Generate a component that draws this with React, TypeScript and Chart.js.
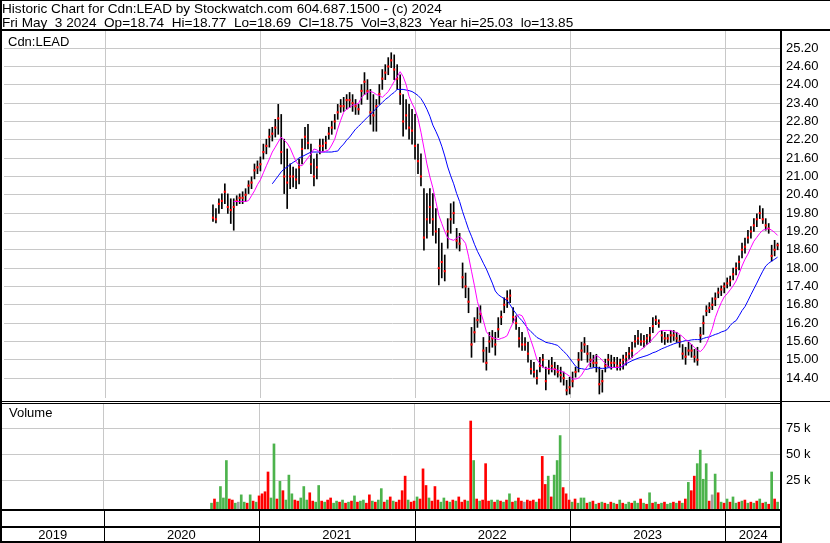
import React, { useEffect, useRef } from 'react';
import { Chart, registerables } from 'chart.js';

Chart.register(...registerables);

const FONT = '"Liberation Sans", Arial, Helvetica, sans-serif';
const GRID = '#c8c8c8';

const TITLE = 'Historic Chart for Cdn:LEAD by Stockwatch.com 604.687.1500 - (c) 2024';
const QUOTE_LINE = 'Fri May  3 2024  Op=18.74  Hi=18.77  Lo=18.69  Cl=18.75  Vol=3,823  Year hi=25.03  lo=13.85';
const PRICE_LABEL = 'Cdn:LEAD';
const VOLUME_LABEL = 'Volume';

// weekly samples, first week ending Fri 2020-09-11, one per week to 2024-05-03
const FIRST_WEEK = '2020-09-11';

const HIGH = [
  20.07, 19.95, 20.27, 20.43, 20.76, 20.43, 20.27, 20.27, 20.37, 20.43,
  20.5, 20.6, 20.86, 20.99, 21.41, 21.51, 21.64, 22.06, 22.22, 22.55,
  22.61, 22.87, 23.36, 23.03, 22.22, 21.9, 21.41, 21.31, 21.25, 21.57,
  22.22, 22.61, 22.71, 22.06, 21.57, 21.74, 22.22, 22.22, 22.32, 22.61,
  22.81, 23.03, 23.36, 23.52, 23.59, 23.68, 23.75, 23.68, 23.52, 23.36,
  24.01, 24.4, 24.17, 23.85, 23.68, 23.52, 24.01, 24.5, 24.66, 24.89,
  25.05, 24.98, 24.66, 24.33, 23.68, 23.52, 23.36, 23.2, 23.03, 22.06,
  21.74, 20.6, 20.44, 20.6, 20.44, 19.95, 19.3, 18.82, 18.43, 19.62,
  20.11, 20.17, 19.3, 19.14, 18.17, 17.84, 17.35, 16.06, 16.38, 16.71,
  16.77, 15.73, 15.41, 15.9, 15.96, 15.9, 16.38, 16.6, 17.03, 17.26,
  17.29, 16.71, 16.44, 16.06, 15.9, 15.73, 15.57, 14.98, 14.92, 14.66,
  15.08, 15.18, 14.76, 14.98, 15.08, 14.92, 14.82, 14.76, 14.6, 14.33,
  14.43, 14.6, 14.76, 15.24, 15.57, 15.73, 15.47, 15.24, 15.15, 15.18,
  14.76, 14.66, 15.02, 15.18, 15.15, 15.08, 15.08, 15.02, 15.15, 15.24,
  15.41, 15.57, 15.8, 15.96, 15.86, 15.8, 15.83, 16.06, 16.38, 16.44,
  16.31, 15.96, 15.9, 15.83, 15.96, 15.96, 15.9, 15.8, 15.5, 15.41,
  15.57, 15.5, 15.34, 15.41, 16.06, 16.44, 16.77, 16.87, 17.03, 17.19,
  17.35, 17.42, 17.52, 17.68, 17.74, 18.0, 18.17, 18.4, 18.82, 18.98,
  19.24, 19.36, 19.62, 19.78, 20.04, 19.95, 19.62, 19.46, 18.75, 18.91,
  18.82,
];

const LOW = [
  19.53, 19.48, 19.79, 19.95, 20.11, 19.79, 19.46, 19.24, 20.05, 20.11,
  20.11, 20.18, 20.44, 20.6, 20.92, 21.09, 21.18, 21.57, 21.74, 21.96,
  22.16, 22.29, 22.38, 21.41, 20.44, 19.95, 20.6, 20.66, 20.6, 20.76,
  21.41, 21.9, 21.9, 21.09, 20.69, 20.92, 21.74, 21.83, 21.9, 22.22,
  22.38, 22.55, 22.87, 23.1, 23.13, 23.2, 23.26, 23.13, 23.03, 23.03,
  23.36, 23.68, 23.52, 22.71, 22.48, 22.48, 23.36, 23.85, 24.17, 24.33,
  24.56, 24.17, 23.85, 23.36, 22.32, 22.55, 22.22, 22.06, 21.57, 21.09,
  20.69, 18.59, 18.98, 19.46, 19.07, 18.82, 17.45, 17.68, 17.58, 18.65,
  19.14, 19.46, 18.65, 18.56, 17.35, 17.03, 16.54, 15.08, 15.57, 16.06,
  16.22, 14.92, 14.66, 15.24, 15.41, 15.15, 15.73, 16.15, 16.54, 16.71,
  16.87, 16.22, 15.99, 15.41, 15.31, 15.31, 14.92, 14.53, 14.43, 14.2,
  14.6, 14.76, 14.01, 14.53, 14.6, 14.5, 14.43, 14.27, 14.17, 13.85,
  13.88, 14.11, 14.43, 14.6, 14.98, 15.24, 14.92, 14.76, 14.76, 14.6,
  13.88, 13.94, 14.6, 14.76, 14.69, 14.76, 14.66, 14.66, 14.69, 14.82,
  15.02, 15.08, 15.41, 15.5, 15.47, 15.41, 15.5, 15.57, 15.89, 16.15,
  16.06, 15.57, 15.5, 15.57, 15.57, 15.63, 15.57, 15.41, 15.02, 14.85,
  15.15, 15.08, 14.92, 14.82, 15.57, 15.83, 16.44, 16.54, 16.64, 16.77,
  17.03, 17.1, 17.19, 17.35, 17.42, 17.61, 17.78, 17.94, 18.33, 18.49,
  18.82, 18.98, 19.2, 19.36, 19.62, 19.46, 19.24, 19.14, 18.23, 18.4,
  18.6,
];

const CLOSE = [
  19.65, 19.6, 20.1, 20.2, 20.5, 20.0, 19.9, 20.0, 20.2, 20.3,
  20.3, 20.4, 20.7, 20.8, 21.2, 21.3, 21.4, 21.8, 22.0, 22.3,
  22.4, 22.6, 22.9, 21.8, 21.0, 20.8, 21.0, 21.0, 20.9, 21.3,
  21.9, 22.3, 22.1, 21.4, 21.0, 21.3, 22.0, 22.0, 22.1, 22.4,
  22.6, 22.8, 23.1, 23.3, 23.3, 23.5, 23.5, 23.4, 23.3, 23.2,
  23.8, 24.1, 23.8, 23.1, 23.0, 23.3, 23.7, 24.2, 24.4, 24.6,
  24.8, 24.5, 24.2, 23.7, 22.8, 23.0, 22.6, 22.5, 22.0, 21.5,
  21.0, 19.0, 19.6, 20.0, 19.6, 19.2, 18.0, 18.2, 17.9, 19.2,
  19.6, 19.8, 18.9, 18.8, 17.7, 17.4, 16.9, 15.5, 15.9, 16.3,
  16.5, 15.3, 14.9, 15.6, 15.7, 15.5, 16.0, 16.4, 16.8, 17.0,
  17.1, 16.4, 16.2, 15.7, 15.5, 15.5, 15.2, 14.7, 14.6, 14.4,
  14.8, 15.0, 14.3, 14.7, 14.8, 14.7, 14.6, 14.5, 14.4, 14.0,
  14.1, 14.3, 14.6, 15.0, 15.3, 15.5, 15.2, 15.0, 14.9, 14.9,
  14.2, 14.3, 14.8, 15.0, 14.9, 14.9, 14.8, 14.9, 15.0, 15.1,
  15.2, 15.3, 15.6, 15.7, 15.6, 15.6, 15.7, 15.8, 16.1, 16.3,
  16.2, 15.8, 15.7, 15.7, 15.8, 15.8, 15.7, 15.6, 15.2, 15.1,
  15.3, 15.3, 15.1, 15.0, 15.8, 16.2, 16.6, 16.7, 16.8, 17.0,
  17.2, 17.3, 17.4, 17.5, 17.6, 17.8, 18.0, 18.2, 18.6, 18.7,
  19.0, 19.2, 19.4, 19.6, 19.8, 19.6, 19.4, 19.3, 18.4, 18.6,
  18.75,
];

// magenta (short) moving average, read per week
const MA_SHORT = [
  null, null, null, null, null, null, null, 20.18, 20.18, 20.18,
  20.18, 20.18, 20.21, 20.37, 20.53, 20.73, 20.89, 21.12, 21.35, 21.57,
  21.80, 21.96, 22.13, 22.29, 22.19, 22.09, 21.93, 21.70, 21.48, 21.38,
  21.35, 21.48, 21.61, 21.74, 21.90, 21.87, 21.80, 21.80, 21.83, 21.87,
  22.03, 22.22, 22.55, 22.84, 23.10, 23.20, 23.26, 23.33, 23.36, 23.39,
  23.59, 23.68, 23.75, 23.78, 23.75, 23.68, 23.65, 23.59, 23.68, 23.78,
  23.94, 24.11, 24.27, 24.43, 24.27, 24.01, 23.62, 23.39, 23.20, 22.90,
  22.45, 21.93, 21.41, 20.99, 20.63, 20.18, 19.73, 19.46, 19.20, 18.98,
  18.94, 18.91, 18.98, 19.04, 18.94, 18.81, 18.39, 17.90, 17.42, 16.90,
  16.57, 16.28, 15.92, 15.79, 15.73, 15.70, 15.66, 15.70, 15.73, 15.79,
  16.02, 16.22, 16.41, 16.48, 16.44, 16.25, 15.92, 15.63, 15.34, 15.01,
  14.88, 14.75, 14.72, 14.72, 14.69, 14.69, 14.66, 14.63, 14.59, 14.53,
  14.46, 14.37, 14.37, 14.40, 14.50, 14.66, 14.79, 14.92, 15.01, 15.14,
  15.08, 14.98, 14.88, 14.79, 14.75, 14.75, 14.75, 14.75, 14.82, 14.92,
  15.01, 15.08, 15.18, 15.24, 15.34, 15.40, 15.50, 15.57, 15.70, 15.79,
  15.92, 15.96, 15.96, 15.96, 15.96, 15.92, 15.89, 15.83, 15.76, 15.66,
  15.60, 15.50, 15.40, 15.31, 15.27, 15.37, 15.53, 15.76, 16.02, 16.38,
  16.64, 16.87, 17.06, 17.16, 17.29, 17.42, 17.58, 17.81, 18.07, 18.29,
  18.46, 18.68, 18.88, 19.01, 19.14, 19.24, 19.27, 19.30, 19.24, 19.17,
  19.07,
];

// blue (long) moving average, read per week
const MA_LONG = [
  null, null, null, null, null, null, null, null, null, null,
  null, null, null, null, null, null, null, null, null, null,
  20.76, 20.89, 21.02, 21.15, 21.25, 21.31, 21.39, 21.46, 21.52, 21.61,
  21.65, 21.70, 21.75, 21.80, 21.80, 21.80, 21.80, 21.80, 21.80, 21.80,
  21.80, 21.82, 21.83, 21.96, 22.06, 22.19, 22.29, 22.42, 22.55, 22.64,
  22.74, 22.84, 22.94, 23.03, 23.13, 23.23, 23.33, 23.42, 23.52, 23.59,
  23.68, 23.75, 23.85, 23.85, 23.85, 23.83, 23.81, 23.78, 23.72, 23.65,
  23.55, 23.39, 23.20, 22.97, 22.68, 22.48, 22.26, 21.99, 21.67, 21.31,
  21.02, 20.76, 20.44, 20.18, 19.85, 19.56, 19.27, 19.04, 18.78, 18.55,
  18.36, 18.16, 17.97, 17.74, 17.51, 17.25, 17.13, 17.06, 17.00, 16.93,
  16.80, 16.64, 16.51, 16.38, 16.28, 16.15, 16.02, 15.92, 15.83, 15.73,
  15.68, 15.63, 15.57, 15.55, 15.53, 15.50, 15.47, 15.37, 15.27, 15.18,
  15.05, 14.92, 14.79, 14.72, 14.71, 14.69, 14.69, 14.72, 14.74, 14.75,
  14.72, 14.72, 14.72, 14.74, 14.74, 14.75, 14.75, 14.75, 14.80, 14.87,
  14.92, 14.97, 15.01, 15.05, 15.08, 15.11, 15.14, 15.18, 15.23, 15.26,
  15.31, 15.36, 15.40, 15.44, 15.48, 15.52, 15.55, 15.57, 15.60, 15.63,
  15.63, 15.65, 15.66, 15.66, 15.66, 15.70, 15.73, 15.75, 15.79, 15.83,
  15.86, 15.91, 15.94, 15.99, 16.12, 16.22, 16.28, 16.44, 16.61, 16.74,
  16.93, 17.13, 17.32, 17.51, 17.71, 17.90, 18.07, 18.16, 18.23, 18.29,
  18.36,
];

// volume in thousands of shares
const VOLUME = [
  3, 7, 4, 19, 8, 44, 7, 6, 3, 4,
  11, 4, 3, 11, 5, 4, 10, 12, 14, 33,
  8, 60, 7, 24, 15, 6, 30, 12, 6, 5,
  8, 19, 6, 13, 5, 4, 20, 5, 4, 6,
  8, 3, 5, 4, 6, 3, 4, 5, 10, 4,
  5, 6, 3, 11, 5, 4, 6, 17, 4, 6,
  9, 5, 4, 6, 15, 29, 6, 4, 5, 9,
  7, 36, 20, 8, 5, 19, 6, 4, 8, 5,
  4, 6, 5, 9, 4, 6, 5, 82, 44, 7,
  5, 6, 41, 5, 6, 4, 6, 5, 4, 6,
  12, 4, 5, 8, 5, 4, 6, 5, 6, 4,
  7, 48, 21, 29, 9, 30, 44, 68, 18, 12,
  6, 4, 7, 3, 8, 8, 3, 4, 5, 2,
  3, 4, 3, 2, 4, 3, 2, 6, 3, 2,
  4, 3, 5, 3, 7, 3, 2, 13, 3, 4,
  2, 3, 4, 2, 3, 4, 3, 5, 3, 7,
  23, 15, 29, 41, 54, 26, 41, 5, 11, 31,
  13, 4, 3, 7, 4, 9, 3, 4, 5, 6,
  3, 4, 3, 5, 7, 3, 4, 2, 33, 7,
  4,
];

// G = up, R = down, N = unchanged
const VOLUME_DIR =
  'GRGGGGRRGN' + 'GGRGRGRRRR' + 'GGRGRGGGRR' + 'GGGRRGGRGR' + 'RGGRGRGRGR' +
  'GGRRGRGGRG' + 'RGRRRRGRRG' + 'RRRGRRRGGR' + 'GRGRRRGRGR' + 'GRRRGRGRGR' +
  'GRGRRNRRRG' + 'RRRGRGGGRR' + 'RGRGGGRGRG' + 'RGRGRGRGRG' + 'GRGGRGRGRG' +
  'RGRGGRGRGR' + 'GRRGGGGRNG' + 'RGRGRGGRGR' + 'GRGRGRGRGR' + 'G';

const PRICE_TICKS = [14.4, 15.0, 15.6, 16.2, 16.8, 17.4, 18.0, 18.6, 19.2, 19.8, 20.4, 21.0, 21.6, 22.2, 22.8, 23.4, 24.0, 24.6, 25.2];
const VOLUME_TICKS = [25, 50, 75];
const YEARS = [2019, 2020, 2021, 2022, 2023, 2024];

const X_MIN = 2019.346;
const X_MAX = 2024.358;
const PRICE_MIN = 13.749;
const PRICE_MAX = 25.794;
const VOL_MIN = -3.56;
const VOL_MAX = 99.33;

const VOL_COLORS: Record<string, string> = { G: '#4cb34c', R: '#ff0000', N: '#a0a0a0' };

function toYear(d: Date): number {
  const y = d.getUTCFullYear();
  const a = Date.UTC(y, 0, 1);
  const b = Date.UTC(y + 1, 0, 1);
  return y + (d.getTime() - a) / (b - a);
}

function weekTimes(): number[] {
  const [fy, fm, fd] = FIRST_WEEK.split('-').map(Number);
  return HIGH.map((_, i) => toYear(new Date(Date.UTC(fy, fm - 1, fd + 7 * i))));
}

function xScale(): any {
  return {
    type: 'linear',
    position: 'bottom',
    offset: false,
    min: X_MIN,
    max: X_MAX,
    grid: { color: GRID, lineWidth: 1, drawTicks: false, offset: false },
    border: { display: false },
    ticks: { display: false },
    afterBuildTicks: (s: any) => {
      s.ticks = YEARS.slice(1).map((v) => ({ value: v }));
    },
    afterFit: (s: any) => {
      s.height = 0;
      s.paddingLeft = 0;
      s.paddingRight = 0;
    },
  };
}

const pricePlugin = {
  id: 'priceFrame',
  afterDraw(chart: any) {
    const { ctx, chartArea: ca, width: W, height: H } = chart;
    ctx.save();
    ctx.fillStyle = '#000';
    ctx.fillRect(0, 0, W, 1);
    ctx.fillRect(0, 29, W, 2);
    ctx.fillRect(0, 0, 2, H);
    ctx.fillRect(ca.right - 1, 29, 2, H - 29);
    ctx.fillRect(0, H - 1, W, 1);
    ctx.textAlign = 'left';
    ctx.textBaseline = 'alphabetic';
    ctx.font = `13.6px ${FONT}`;
    ctx.fillText(TITLE, 2, 13);
    ctx.fillText(QUOTE_LINE, 2, 27);
    ctx.font = `13px ${FONT}`;
    ctx.fillText(PRICE_LABEL, 8, 46);
    ctx.restore();
  },
};

const volumePlugin = {
  id: 'volumeFrame',
  afterDraw(chart: any) {
    const { ctx, chartArea: ca, width: W, height: H } = chart;
    const xs = chart.scales.x;
    ctx.save();
    ctx.fillStyle = '#000';
    ctx.fillRect(0, 1, ca.right + 1, 1);
    ctx.fillRect(0, 0, 2, H);
    ctx.fillRect(ca.right - 1, 0, 2, H);
    const b = ca.bottom;
    ctx.fillRect(0, b - 1, ca.right, 2);
    ctx.fillRect(0, b + 16, ca.right, 2);
    ctx.fillRect(0, H - 2, ca.right + 1, 2);
    for (const y of YEARS.slice(1)) {
      const px = Math.round(xs.getPixelForValue(y));
      ctx.fillRect(px, b, 1, H - b);
    }
    ctx.font = `13px ${FONT}`;
    ctx.textAlign = 'center';
    ctx.textBaseline = 'alphabetic';
    for (const y of YEARS) {
      const l = Math.max(ca.left, xs.getPixelForValue(y));
      const r = Math.min(ca.right, xs.getPixelForValue(y + 1));
      ctx.fillText(String(y), (l + r) / 2, H - 4);
    }
    ctx.textAlign = 'left';
    ctx.fillText(VOLUME_LABEL, 9, 15);
    ctx.restore();
  },
};

export default function App() {
  const priceRef = useRef<HTMLCanvasElement>(null);
  const volRef = useRef<HTMLCanvasElement>(null);

  useEffect(() => {
    const T = weekTimes();
    const hl = T.map((t, i) => ({ x: t, y: [LOW[i], HIGH[i]] }));
    const closes = T.map((t, i) => ({ x: t, y: CLOSE[i] }));
    const maS = T.map((t, i) => ({ x: t, y: MA_SHORT[i] })).filter((p) => p.y !== null);
    const maL = T.map((t, i) => ({ x: t, y: MA_LONG[i] })).filter((p) => p.y !== null);
    const vols = T.map((t, i) => ({ x: t, y: VOLUME[i] }));
    const volColors = VOLUME_DIR.split('').map((c) => VOL_COLORS[c]);

    const priceChart = new Chart(priceRef.current as HTMLCanvasElement, {
      type: 'bar',
      data: {
        datasets: [
          { type: 'line', data: maS as any, borderColor: '#ff00ff', borderWidth: 1, pointRadius: 0, order: 0 } as any,
          { type: 'line', data: maL as any, borderColor: '#0000ff', borderWidth: 1, pointRadius: 0, order: 1 } as any,
          {
            type: 'line', data: closes as any, showLine: false, pointStyle: 'rect', pointRadius: 1.5,
            pointBackgroundColor: '#ff0000', pointBorderWidth: 0, order: 2,
          } as any,
          { type: 'bar', data: hl as any, backgroundColor: '#000000', barThickness: 1, grouped: false, borderWidth: 0, order: 3 } as any,
        ],
      },
      options: {
        responsive: false,
        animation: false,
        devicePixelRatio: 1,
        events: [],
        layout: { padding: { top: 30, left: 2, right: 0, bottom: 1 } },
        plugins: { legend: { display: false }, tooltip: { enabled: false } },
        scales: {
          x: xScale(),
          y: {
            type: 'linear',
            position: 'right',
            min: PRICE_MIN,
            max: PRICE_MAX,
            grid: { color: GRID, lineWidth: 1, drawTicks: false },
            border: { display: false },
            ticks: {
              color: '#000',
              padding: 5,
              font: { family: FONT, size: 13 },
              callback: (v: any) => Number(v).toFixed(2),
            },
            afterBuildTicks: (s: any) => {
              s.ticks = PRICE_TICKS.map((v) => ({ value: v }));
            },
            afterFit: (s: any) => {
              s.width = 49;
              s.paddingTop = 0;
              s.paddingBottom = 0;
            },
          } as any,
        },
      } as any,
      plugins: [pricePlugin],
    });

    const volChart = new Chart(volRef.current as HTMLCanvasElement, {
      type: 'bar',
      data: {
        datasets: [
          { type: 'bar', data: vols as any, backgroundColor: volColors, barThickness: 2, grouped: false, borderWidth: 0, base: VOL_MIN } as any,
        ],
      },
      options: {
        responsive: false,
        animation: false,
        devicePixelRatio: 1,
        events: [],
        layout: { padding: { top: 1, left: 2, right: 0, bottom: 33 } },
        plugins: { legend: { display: false }, tooltip: { enabled: false } },
        scales: {
          x: xScale(),
          y: {
            type: 'linear',
            position: 'right',
            min: VOL_MIN,
            max: VOL_MAX,
            grid: { color: GRID, lineWidth: 1, drawTicks: false },
            border: { display: false },
            ticks: {
              color: '#000',
              padding: 5,
              font: { family: FONT, size: 13 },
              callback: (v: any) => `${v} k`,
            },
            afterBuildTicks: (s: any) => {
              s.ticks = VOLUME_TICKS.map((v) => ({ value: v }));
            },
            afterFit: (s: any) => {
              s.width = 49;
              s.paddingTop = 0;
              s.paddingBottom = 0;
            },
          } as any,
        },
      } as any,
      plugins: [volumePlugin],
    });

    return () => {
      priceChart.destroy();
      volChart.destroy();
    };
  }, []);

  return (
    <div style={{ position: 'absolute', left: 0, top: 0, width: 830, height: 543, background: '#ffffff', overflow: 'hidden' }}>
      <canvas ref={priceRef} width={830} height={402} style={{ position: 'absolute', left: 0, top: 0, width: 830, height: 402, display: 'block' }} />
      <canvas ref={volRef} width={830} height={141} style={{ position: 'absolute', left: 0, top: 402, width: 830, height: 141, display: 'block' }} />
    </div>
  );
}
